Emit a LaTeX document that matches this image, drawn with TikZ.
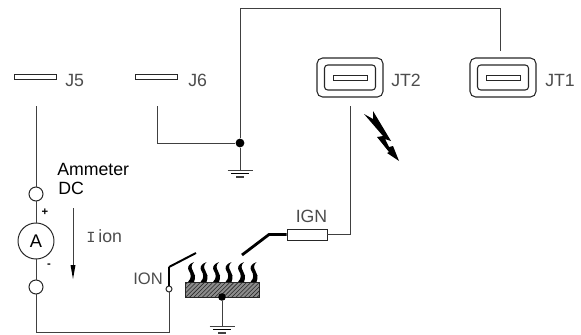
\documentclass[tikz,border=0pt]{standalone}
\usepackage{fontspec}
\setmainfont{Liberation Sans}
\newfontfamily\cadmono{Liberation Mono}
\usetikzlibrary{patterns}
\usetikzlibrary{positioning}
\tikzset{
  wire/.style={draw=black!75,line width=0.7pt},
  thickwire/.style={draw=black,line width=2pt},
  slot/.style={draw=black!85,line width=0.7pt,fill=white,rectangle,inner sep=0pt,minimum height=0.125cm},
  jackouter/.style={draw=black!85,line width=0.75pt,rectangle,rounded corners=0.14cm,inner sep=0pt,minimum width=1.65cm,minimum height=0.975cm},
  jackinner/.style={draw=black!85,line width=0.75pt,rectangle,rounded corners=0.08cm,inner sep=0pt,minimum width=1.275cm,minimum height=0.625cm},
  terminal/.style={draw=black!85,line width=0.7pt,circle,inner sep=0pt,fill=white,minimum size=0.35cm},
  junction/.style={fill=black,circle,inner sep=0pt,minimum size=0.22cm},
  lbl/.style={font=\fontsize{12.6}{14}\selectfont,text=black!70,inner sep=0pt,anchor=base west},
}
\begin{document}
\begin{tikzpicture}[x=0.025cm,y=-0.025cm]
\useasboundingbox (0,0) rectangle (581,335);
% contacts
\node[slot,minimum width=1.05cm] (J5) at (35,76.5) {};
\node[slot,minimum width=1.05cm] (J6) at (156.5,76.5) {};
\node[lbl] (lblJ5) at (65,86) {J5};
\node[lbl] (lblJ6) at (188,86) {J6};
\foreach \jn/\jx/\jl in {JT2/350/391, JT1/503/545} {
\node[jackouter] (\jn) at (\jx,77.5) {};
\node[jackinner] (\jn in) at (\jx,77.5) {};
\node[slot,minimum width=0.85cm] (\jn sl) at (\jx,77.5) {};
\node[lbl] (lbl\jn) at (\jl,86) {\jn};
}
% top wire and ground
\coordinate (J6w) at (157,106);
\coordinate (J6c) at (157,143);
\node[junction] (gnd1) at (240,143) {};
\coordinate (topL) at (240,8);
\coordinate (topR) at (500,8);
\coordinate (JT1w) at (500,51);
\coordinate (gnd1b) at (240,170);
\draw[wire] (J6w) -- (J6c) -- (gnd1);
\draw[wire] (JT1w) -- (topR) -- (topL) -- (gnd1) -- (gnd1b);
% meter branch
\coordinate (J5w) at (36,106);
\node[terminal] (termT) at (36,194) {};
\node[draw=black!85,line width=0.7pt,circle,inner sep=0pt,minimum size=0.9cm,font=\fontsize{13}{14}\selectfont] (amm) at (36,241) {A};
\node[terminal] (termB) at (36,287) {};
\coordinate (botL) at (36,332);
\node[draw=black!85,line width=0.7pt,circle,inner sep=0pt,fill=white,minimum size=0.15cm] (swp) at (169,289) {};
\draw[wire] (J5w) -- (termT) -- (amm) -- (termB) -- (botL) -- (botL -| swp) -- (swp);
\node[font=\bfseries\fontsize{8}{9}\selectfont,inner sep=0pt] (plus) at (45,212.5) {+};
\node[font=\bfseries\fontsize{8}{9}\selectfont,inner sep=0pt] (minus) at (49,266) {-};
\node[lbl,text=black] (lblAm) at (57,175) {Ammeter};
\node[lbl,text=black] (lblDC) at (58,194.5) {DC};
\node[lbl] (lblI) at (86,242) {{\cadmono\fontsize{11}{13}\selectfont I}\kern2pt ion};
\node[lbl,font=\fontsize{11.8}{13}\selectfont] (lblION) at (133,284) {ION};
\coordinate (arrT) at (73,208);
\coordinate (arrB) at (73,279);
\draw[wire] (arrT) -- (73,266);
\fill[black] (70.5,265) -- (75.5,265) -- (arrB) -- cycle;
% ignition wire
\coordinate (JT2w) at (350,106);
\coordinate (JT2c) at (350,234.5);
\node[draw=black!85,line width=0.7pt,rectangle,inner sep=0pt,minimum width=1cm,minimum height=0.275cm] (res) at (307,234.5) {};
\coordinate (ignk) at (269,234.5);
\coordinate (ignt) at (242,255);
\draw[wire] (JT2w) -- (JT2c) -- (res);
\draw[thickwire] (res) -- (ignk) -- (ignt);
\node[lbl] (lblIGN) at (295.5,222) {IGN};
% switch
\coordinate (swk) at (169,267);
\coordinate (swt) at (196,253);
\draw[thickwire] (swp) -- (swk);
\draw[draw=black,line width=1.4pt] (swk) -- (swt);
% heater
\node[draw=black!85,line width=0.7pt,rectangle,inner sep=0pt,minimum width=1.825cm,minimum height=0.36cm,preaction={fill=black!45},pattern=north east lines,pattern color=black!85] (heat) at (222.5,290) {};
\node[junction,minimum size=0.19cm] (gnd2) at (222,297) {};
\coordinate (gnd2b) at (222,326);
\draw[wire] (gnd2) -- (gnd2b);
\foreach \fx in {192,204.5,217,229.5,242,254.5} {
\fill[black] (\fx+2,282) .. controls (\fx+4,277) and (\fx+3,274) .. (\fx+1,271)
  .. controls (\fx-1,268) and (\fx-1,265) .. (\fx+2,262)
  .. controls (\fx-4,264) and (\fx-5,268) .. (\fx-3,271)
  .. controls (\fx-1,274) and (\fx,278) .. (\fx-4,282) -- cycle;
}
% ground symbols
\foreach \gx/\gy in {240/170, 222/326} {
\draw[wire] (\gx-12.5,\gy) -- (\gx+12.5,\gy);
\draw[draw=black,line width=0.7pt] (\gx-9,\gy+3.5) -- (\gx+9,\gy+3.5);
\draw[wire,line width=0.9pt] (\gx-4,\gy+7) -- (\gx+4,\gy+7);
}
% spark
\fill[black] (364,114) -- (373,119) -- (373,111) -- (391,141) -- (385,139) -- (389,147) -- (393,146) -- (399,161) -- (387,153) -- (389,152) -- (377,137) -- (383,136) -- cycle;
\end{tikzpicture}
\end{document}
